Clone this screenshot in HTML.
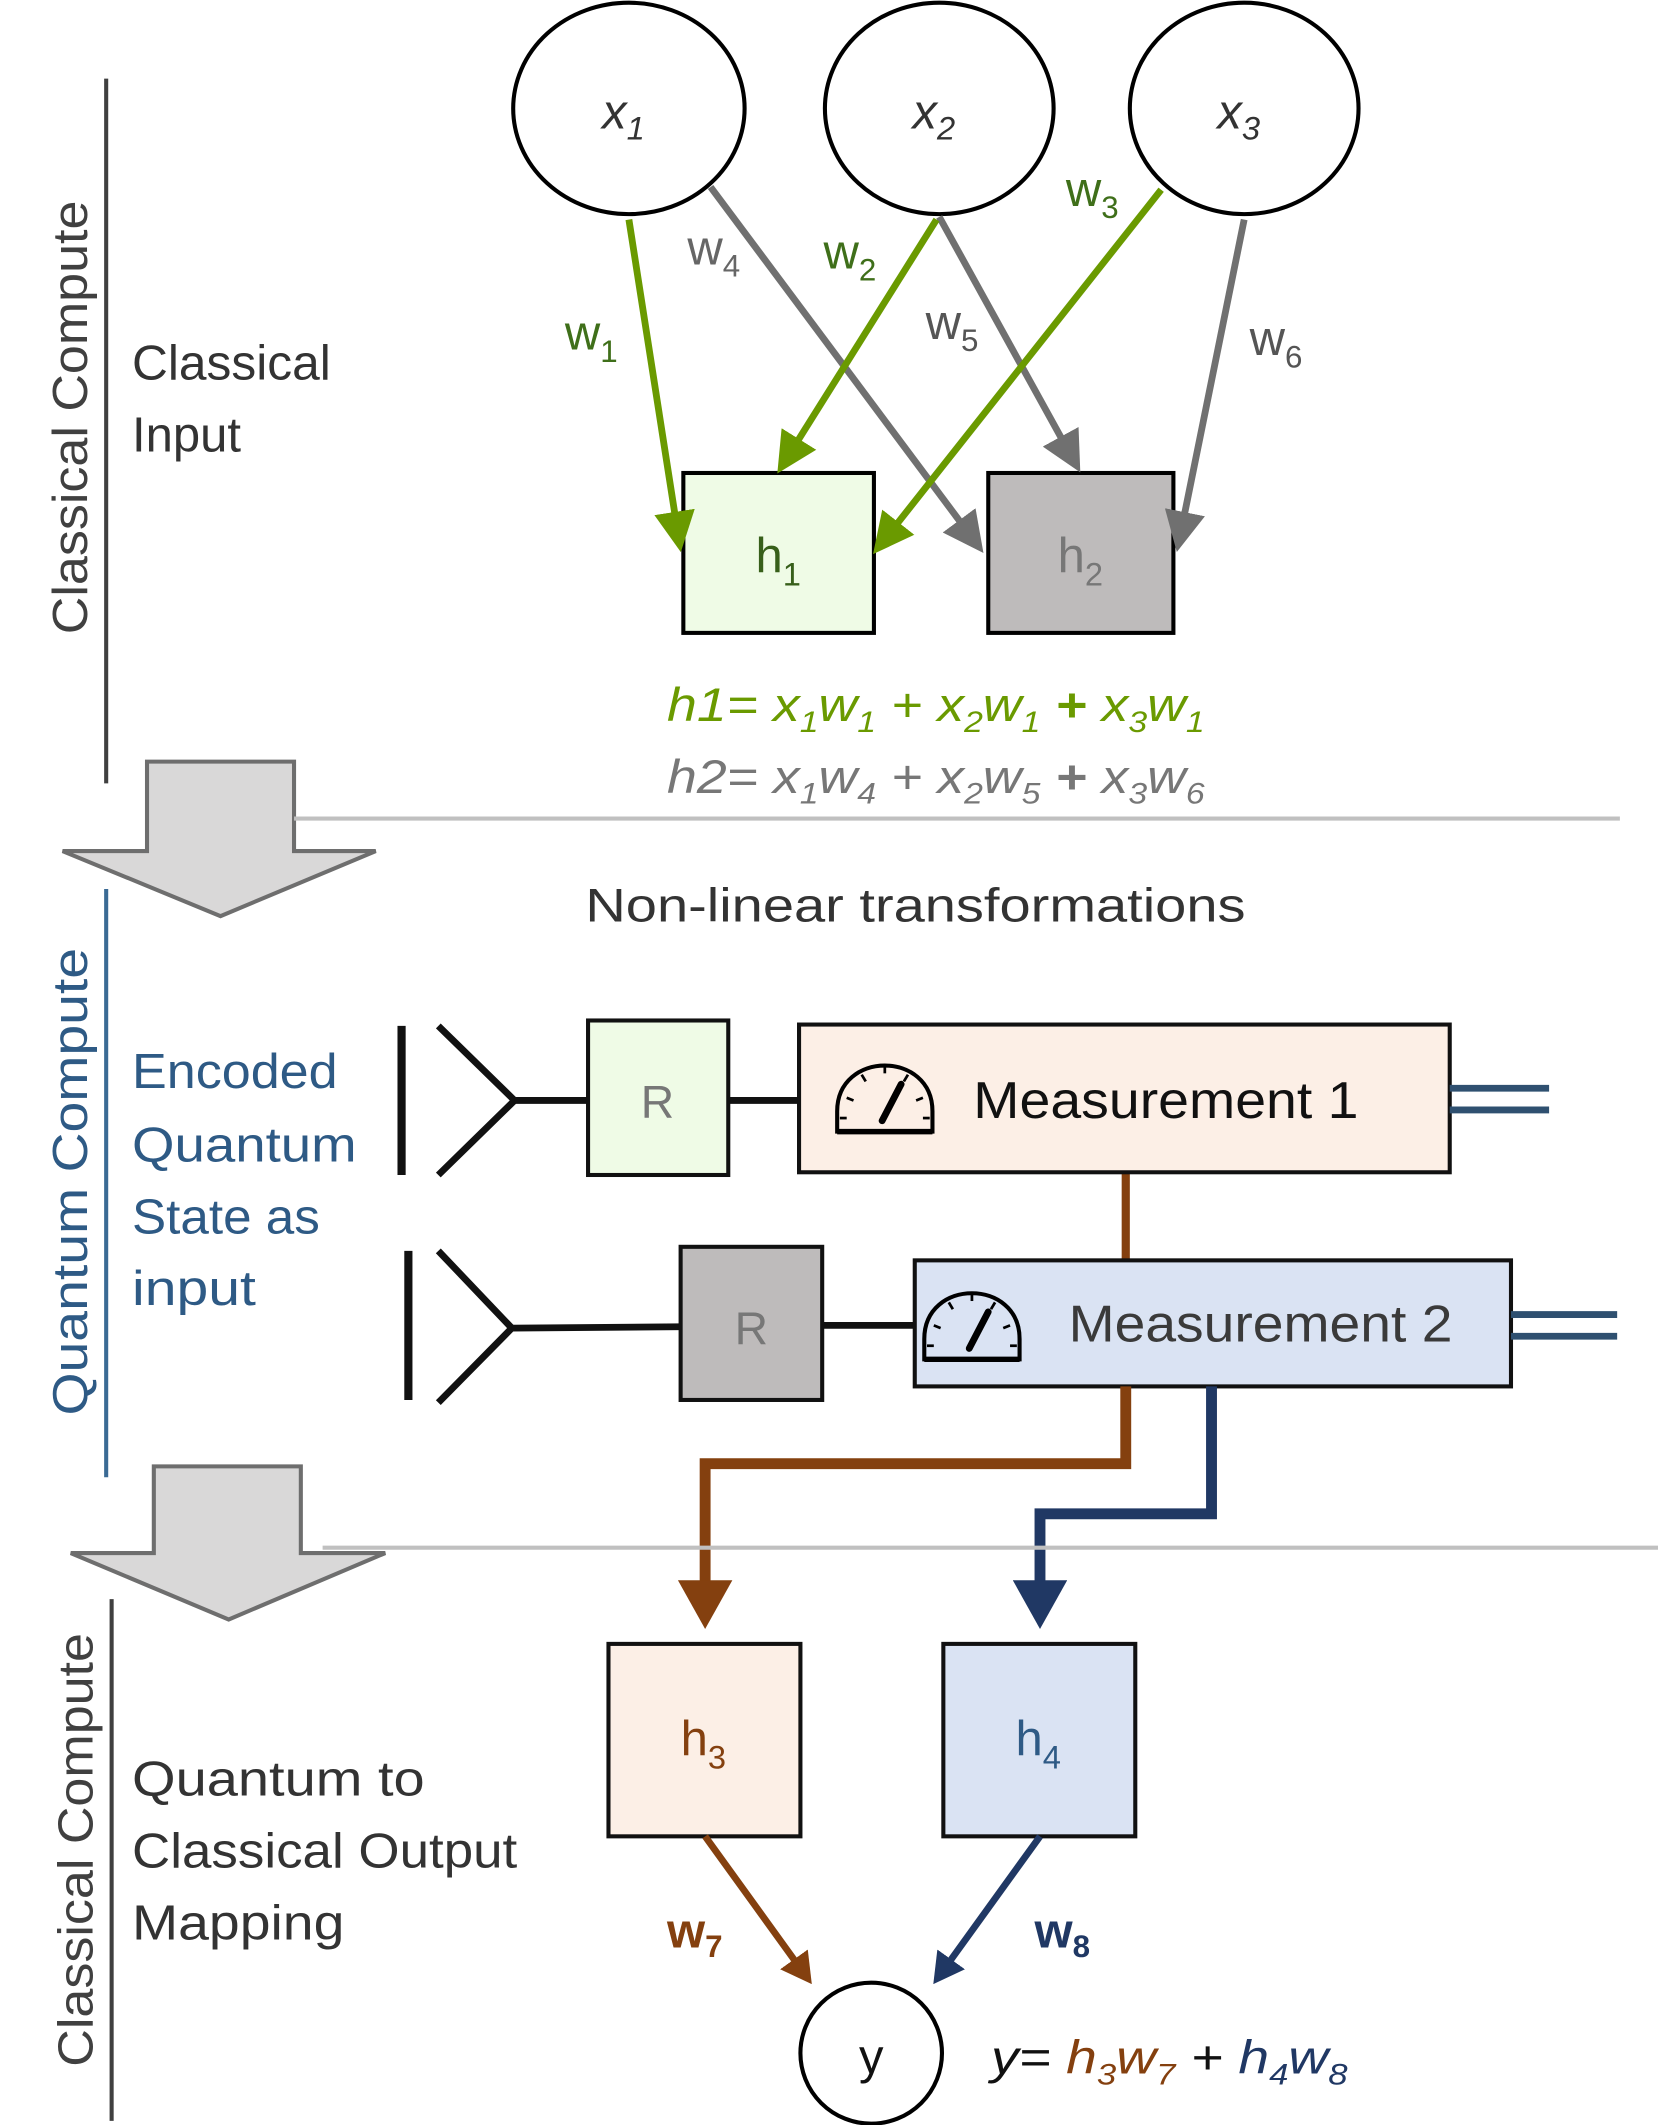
<!DOCTYPE html>
<html><head><meta charset="utf-8"><style>
html,body{margin:0;padding:0;background:#fff;width:1658px;height:2125px;overflow:hidden}
svg{display:block}
text{font-family:"Liberation Sans","DejaVu Sans",sans-serif}
</style></head><body>
<svg width="1658" height="2125" viewBox="0 0 1218 1568" preserveAspectRatio="none" xmlns="http://www.w3.org/2000/svg">
<defs>
<marker id="ag" markerWidth="6" markerHeight="6" refX="4.5" refY="3" orient="auto" markerUnits="strokeWidth"><path d="M0,0 L6,3 L0,6 Z" fill="#6a9a00"/></marker>
<marker id="agr" markerWidth="6" markerHeight="6" refX="4.5" refY="3" orient="auto" markerUnits="strokeWidth"><path d="M0,0 L6,3 L0,6 Z" fill="#707070"/></marker>
<marker id="ab" markerWidth="4.5" markerHeight="5" refX="3" refY="2.5" orient="auto" markerUnits="strokeWidth"><path d="M0,0 L4.5,2.5 L0,5 Z" fill="#84400f"/></marker>
<marker id="an" markerWidth="4.5" markerHeight="5" refX="3" refY="2.5" orient="auto" markerUnits="strokeWidth"><path d="M0,0 L4.5,2.5 L0,5 Z" fill="#203864"/></marker>
<g id="meter"><path d="M-35,25 L-35,10 C-35,-35 35,-35 35,10 L35,25 Z" fill="none" stroke="#000" stroke-width="3"/><line x1="-35" y1="25" x2="35" y2="25" stroke="#000" stroke-width="4"/><line x1="-2" y1="17" x2="12" y2="-10" stroke="#000" stroke-width="5" stroke-linecap="round"/><g stroke="#000" stroke-width="2"><line x1="0" y1="-24" x2="0" y2="-18"/><line x1="-17" y1="-17" x2="-14" y2="-12"/><line x1="17" y1="-17" x2="14" y2="-12"/><line x1="-28" y1="0" x2="-23" y2="2"/><line x1="28" y1="0" x2="23" y2="2"/><line x1="-33" y1="15" x2="-28" y2="15"/><line x1="33" y1="15" x2="28" y2="15"/></g></g>
</defs>

<!-- section 1 -->
<line x1="78" y1="58" x2="78" y2="578" stroke="#404040" stroke-width="3"/>
<text transform="translate(64,308) rotate(-90)" text-anchor="middle" font-size="36" fill="#404040" textLength="320" lengthAdjust="spacingAndGlyphs">Classical Compute</text>
<text x="97" y="280" font-size="36" fill="#333" textLength="146" lengthAdjust="spacingAndGlyphs">Classical</text>
<text x="97" y="333" font-size="36" fill="#333">Input</text>

<g fill="#fff" stroke="#000" stroke-width="3">
<ellipse cx="462" cy="80" rx="85" ry="78"/>
<ellipse cx="690" cy="80" rx="84" ry="78"/>
<ellipse cx="914" cy="80" rx="84" ry="78"/>
</g>
<g font-size="36" font-style="italic" fill="#333" text-anchor="middle">
<text x="458" y="95">x<tspan font-size="24" dy="8">1</tspan></text>
<text x="686" y="95">x<tspan font-size="24" dy="8">2</tspan></text>
<text x="910" y="95">x<tspan font-size="24" dy="8">3</tspan></text>
</g>

<rect x="502" y="349" width="140" height="118" fill="#effbe6" stroke="#000" stroke-width="3"/>
<rect x="726" y="349" width="136" height="118" fill="#bebbbb" stroke="#000" stroke-width="3"/>
<text x="555" y="422" font-size="36" fill="#375f1a">h<tspan font-size="24" dy="10">1</tspan></text>
<text x="777" y="422" font-size="36" fill="#777">h<tspan font-size="24" dy="10">2</tspan></text>

<g stroke-width="5" fill="none">
<line x1="522" y1="138" x2="718" y2="402" stroke="#707070" marker-end="url(#agr)"/>
<line x1="690" y1="160" x2="790" y2="342" stroke="#707070" marker-end="url(#agr)"/>
<line x1="914" y1="162" x2="866" y2="400" stroke="#707070" marker-end="url(#agr)"/>
<line x1="462" y1="162" x2="499" y2="400" stroke="#6a9a00" marker-end="url(#ag)"/>
<line x1="688" y1="162" x2="575" y2="343" stroke="#6a9a00" marker-end="url(#ag)"/>
<line x1="853" y1="140" x2="646" y2="403" stroke="#6a9a00" marker-end="url(#ag)"/>
</g>
<g font-size="36">
<text x="415" y="258" fill="#3f6f1a">w<tspan font-size="23" dy="9">1</tspan></text>
<text x="605" y="198" fill="#3f6f1a">w<tspan font-size="23" dy="9">2</tspan></text>
<text x="783" y="152" fill="#3f6f1a">w<tspan font-size="23" dy="9">3</tspan></text>
<text x="505" y="195" fill="#666">w<tspan font-size="23" dy="9">4</tspan></text>
<text x="680" y="250" fill="#555">w<tspan font-size="23" dy="9">5</tspan></text>
<text x="918" y="262" fill="#555">w<tspan font-size="23" dy="9">6</tspan></text>
</g>

<text x="490" y="532" font-size="35" font-style="italic" fill="#6a9a00" textLength="395" lengthAdjust="spacingAndGlyphs">h1= x<tspan font-size="22" dy="8">1</tspan><tspan dy="-8">w</tspan><tspan font-size="22" dy="8">1</tspan><tspan dy="-8"> + x</tspan><tspan font-size="22" dy="8">2</tspan><tspan dy="-8">w</tspan><tspan font-size="22" dy="8">1</tspan><tspan dy="-8" font-weight="bold"> + </tspan><tspan>x</tspan><tspan font-size="22" dy="8">3</tspan><tspan dy="-8">w</tspan><tspan font-size="22" dy="8">1</tspan></text>
<text x="490" y="585" font-size="35" font-style="italic" fill="#777" textLength="395" lengthAdjust="spacingAndGlyphs">h2= x<tspan font-size="22" dy="8">1</tspan><tspan dy="-8">w</tspan><tspan font-size="22" dy="8">4</tspan><tspan dy="-8"> + x</tspan><tspan font-size="22" dy="8">2</tspan><tspan dy="-8">w</tspan><tspan font-size="22" dy="8">5</tspan><tspan dy="-8" font-weight="bold"> + </tspan><tspan>x</tspan><tspan font-size="22" dy="8">3</tspan><tspan dy="-8">w</tspan><tspan font-size="22" dy="8">6</tspan></text>

<polygon points="108,562 216,562 216,628 276,628 162,676 46,628 108,628" fill="#d9d8d8" stroke="#6e6e6e" stroke-width="3"/>
<line x1="216" y1="604" x2="1190" y2="604" stroke="#c0c0c0" stroke-width="3"/>
<text x="430" y="680" font-size="35" fill="#333" textLength="485" lengthAdjust="spacingAndGlyphs">Non-linear transformations</text>

<!-- section 2 -->
<line x1="78" y1="656" x2="78" y2="1090" stroke="#3a6a94" stroke-width="3"/>
<text transform="translate(64,872) rotate(-90)" text-anchor="middle" font-size="36" fill="#2e5a85" textLength="345" lengthAdjust="spacingAndGlyphs">Quantum Compute</text>
<g font-size="36" fill="#2e5a85">
<text x="97" y="803" textLength="151" lengthAdjust="spacingAndGlyphs">Encoded</text><text x="97" y="857" textLength="165" lengthAdjust="spacingAndGlyphs">Quantum</text><text x="97" y="910" textLength="138" lengthAdjust="spacingAndGlyphs">State as</text><text x="97" y="963" textLength="91" lengthAdjust="spacingAndGlyphs">input</text>
</g>

<g stroke="#111" stroke-width="5" fill="none">
<line x1="295" y1="757" x2="295" y2="867" stroke-width="6"/>
<polyline points="322,757 378,812 322,867"/>
<line x1="378" y1="812" x2="432" y2="812"/>
<line x1="535" y1="812" x2="587" y2="812"/>
<line x1="300" y1="923" x2="300" y2="1033" stroke-width="6"/>
<polyline points="322,923 376,980 322,1035"/>
<line x1="376" y1="980" x2="500" y2="979"/>
<line x1="604" y1="978" x2="672" y2="978"/>
</g>
<rect x="432" y="753" width="103" height="114" fill="#effbe6" stroke="#111" stroke-width="3"/>
<text x="483" y="825" font-size="34" fill="#777" text-anchor="middle">R</text>
<rect x="500" y="920" width="104" height="113" fill="#bebbbb" stroke="#111" stroke-width="3"/>
<text x="552" y="992" font-size="34" fill="#777" text-anchor="middle">R</text>

<line x1="827" y1="865" x2="827" y2="930" stroke="#84400f" stroke-width="6"/>
<rect x="587" y="756" width="478" height="109" fill="#fcefe6" stroke="#111" stroke-width="3"/>
<use href="#meter" x="650" y="810"/>
<text x="715" y="825" font-size="38" fill="#111" textLength="283" lengthAdjust="spacingAndGlyphs">Measurement 1</text>
<rect x="672" y="930" width="438" height="93" fill="#dae3f3" stroke="#111" stroke-width="3"/>
<use href="#meter" x="714" y="978"/>
<text x="785" y="990" font-size="38" fill="#3a3a3a" textLength="282" lengthAdjust="spacingAndGlyphs">Measurement 2</text>
<g stroke="#2f5070" stroke-width="5">
<line x1="1065" y1="803" x2="1138" y2="803"/><line x1="1065" y1="819" x2="1138" y2="819"/>
<line x1="1110" y1="970" x2="1188" y2="970"/><line x1="1110" y1="986" x2="1188" y2="986"/>
</g>

<polyline points="827,1023 827,1080 518,1080 518,1190" fill="none" stroke="#84400f" stroke-width="8" marker-end="url(#ab)"/>
<polyline points="890,1023 890,1117 764,1117 764,1190" fill="none" stroke="#203864" stroke-width="8" marker-end="url(#an)"/>

<polygon points="113,1082 221,1082 221,1146 283,1146 168,1195 52,1146 113,1146" fill="#d9d8d8" stroke="#6e6e6e" stroke-width="3"/>
<line x1="237" y1="1142" x2="1218" y2="1142" stroke="#c0c0c0" stroke-width="3"/>

<!-- section 3 -->
<line x1="82" y1="1180" x2="82" y2="1565" stroke="#404040" stroke-width="3"/>
<text transform="translate(68,1365) rotate(-90)" text-anchor="middle" font-size="36" fill="#404040" textLength="320" lengthAdjust="spacingAndGlyphs">Classical Compute</text>
<g font-size="36" fill="#333">
<text x="97" y="1325" textLength="215" lengthAdjust="spacingAndGlyphs">Quantum to</text><text x="97" y="1378" textLength="283" lengthAdjust="spacingAndGlyphs">Classical Output</text><text x="97" y="1431" textLength="156" lengthAdjust="spacingAndGlyphs">Mapping</text>
</g>

<rect x="447" y="1213" width="141" height="142" fill="#fcefe6" stroke="#111" stroke-width="3"/>
<rect x="693" y="1213" width="141" height="142" fill="#dae3f3" stroke="#111" stroke-width="3"/>
<text x="500" y="1295" font-size="36" fill="#84400f">h<tspan font-size="24" dy="10">3</tspan></text>
<text x="746" y="1295" font-size="36" fill="#2e5a85">h<tspan font-size="24" dy="10">4</tspan></text>

<line x1="518" y1="1355" x2="592" y2="1458" stroke="#84400f" stroke-width="5" marker-end="url(#ab)"/>
<line x1="764" y1="1355" x2="690" y2="1458" stroke="#203864" stroke-width="5" marker-end="url(#an)"/>
<text x="490" y="1437" font-size="36" font-weight="bold" fill="#84400f">w<tspan font-size="23" dy="7">7</tspan></text>
<text x="760" y="1437" font-size="36" font-weight="bold" fill="#203864">w<tspan font-size="23" dy="7">8</tspan></text>

<circle cx="640" cy="1515" r="52" fill="#fff" stroke="#000" stroke-width="3"/>
<text x="640" y="1530" font-size="36" fill="#111" text-anchor="middle">y</text>
<text x="728" y="1530" font-size="35" font-style="italic" fill="#111" textLength="262" lengthAdjust="spacingAndGlyphs">y= <tspan fill="#84400f">h</tspan><tspan fill="#84400f" font-size="22" dy="8">3</tspan><tspan fill="#84400f" dy="-8">w</tspan><tspan fill="#84400f" font-size="22" dy="8">7</tspan><tspan dy="-8"> + </tspan><tspan fill="#203864">h</tspan><tspan fill="#203864" font-size="22" dy="8">4</tspan><tspan fill="#203864" dy="-8">w</tspan><tspan fill="#203864" font-size="22" dy="8">8</tspan></text>
</svg>
</body></html>
